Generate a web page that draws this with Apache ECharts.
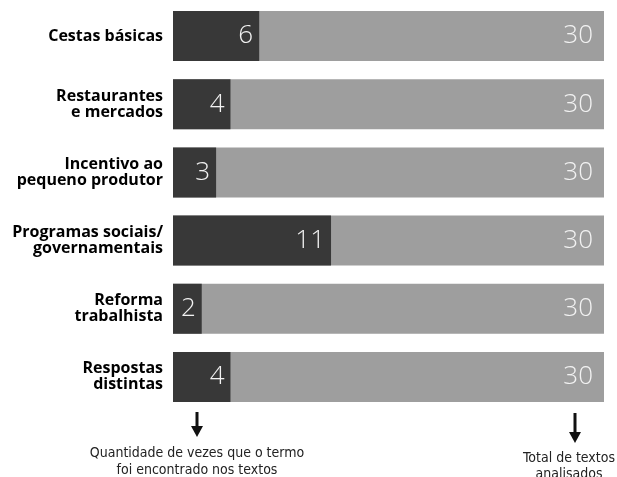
<!DOCTYPE html>
<html>
<head>
<meta charset="utf-8">
<script src="https://cdn.jsdelivr.net/npm/echarts@6/dist/echarts.min.js"></script>
<style>
html,body{margin:0;padding:0;background:#fff;}
#chart{width:617px;height:477px;}
</style>
</head>
<body>
<div id="chart"></div>
<script>
var categories = ['Cestas básicas', 'Restaurantes\ne mercados', 'Incentivo ao\npequeno produtor', 'Programas sociais/\ngovernamentais', 'Reforma\ntrabalhista', 'Respostas\ndistintas'];
var termCounts = [6, 4, 3, 11, 2, 4];
var totalTexts = [30, 30, 30, 30, 30, 30];
var noteLeft = 'Quantidade de vezes que o termo\nfoi encontrado nos textos';
var noteRight = 'Total de textos\nanalisados';

var chart = echarts.init(document.getElementById('chart'), null, {renderer: 'canvas'});
var numFont = {color: '#f2f2f2', fontFamily: 'Open Sans', fontWeight: 300, fontSize: 26};

function arrow(x, y1, y2) {
  return [
    {type: 'rect', shape: {x: x - 1.5, y: y1, width: 3, height: y2 - y1 - 8}, style: {fill: '#111'}},
    {type: 'polygon', shape: {points: [[x - 6, y2 - 11], [x + 6, y2 - 11], [x, y2]]}, style: {fill: '#111'}}
  ];
}

chart.setOption({
  animation: false,
  grid: {left: 173, right: 13, top: 2, bottom: 66},
  xAxis: {type: 'value', min: 0, max: 30, show: false},
  yAxis: {
    type: 'category', data: categories, inverse: true,
    axisLine: {show: false}, axisTick: {show: false},
    axisLabel: {margin: 10, color: '#000', fontFamily: 'Open Sans', fontWeight: 'bold', fontSize: 16, lineHeight: 16, align: 'right', padding: [4, 0, 0, 0]}
  },
  series: [
    {
      type: 'bar', data: totalTexts, barWidth: 50, barGap: '-100%', z: 1,
      itemStyle: {color: '#9e9e9e'},
      label: Object.assign({show: true, position: 'insideRight', distance: 11}, numFont)
    },
    {
      type: 'bar', data: termCounts, barWidth: 50, z: 2,
      itemStyle: {color: '#383838'},
      label: Object.assign({show: true, position: 'insideRight', distance: 6}, numFont)
    }
  ],
  graphic: arrow(197, 412, 437).concat(arrow(575, 413, 443)).concat([
    {type: 'text', x: 197, y: 445, style: {text: noteLeft, textAlign: 'center', fill: '#222', font: '300 14px "DejaVu Sans Condensed", Roboto', lineHeight: 17}},
    {type: 'text', x: 569, y: 450, style: {text: noteRight, textAlign: 'center', fill: '#222', font: '300 14px "DejaVu Sans Condensed", Roboto', lineHeight: 16}}
  ])
});
</script>
</body>
</html>
